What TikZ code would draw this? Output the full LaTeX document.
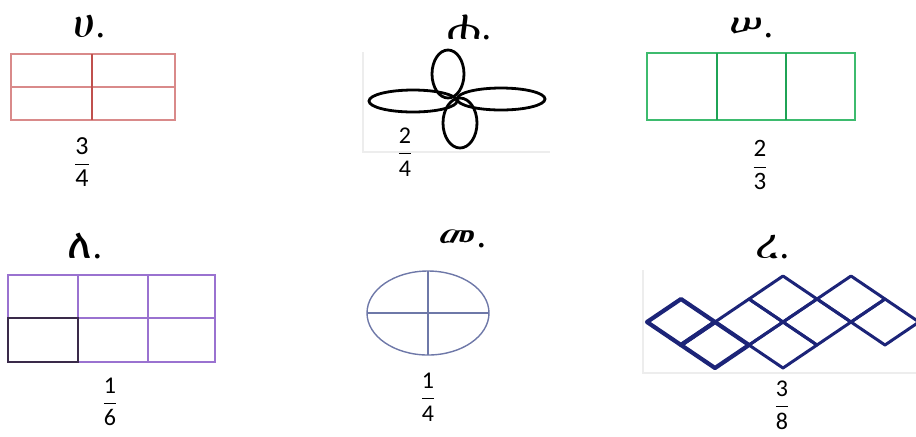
\documentclass[tikz,border=0pt]{standalone}
\usepackage{fontspec}
\setmainfont{Carlito}
\newfontfamily\ethfont{FreeSerif}
\usepackage{xcolor}
\usepackage{tikz}
\definecolor{RoseLine}{HTML}{D98A8A}
\definecolor{RoseDark}{HTML}{C0504D}
\definecolor{MintLine}{HTML}{3DBB6E}
\definecolor{MintDark}{HTML}{1FA355}
\definecolor{LilacLine}{HTML}{9A72D0}
\definecolor{LilacDark}{HTML}{3A2A4A}
\definecolor{SlateLine}{HTML}{6E78A8}
\definecolor{NavyLine}{HTML}{1C2478}
\definecolor{FaintGray}{HTML}{EDEDED}
\newcommand{\fracnum}[2]{$\displaystyle\frac{\textup{#1}}{\textup{#2}}$}

\begin{document}
\begin{tikzpicture}[x=0.5pt, y=-0.5pt,
            letter/.style={font=\ethfont\fontsize{21}{24}\selectfont, inner sep=0pt, anchor=base},
            fracnode/.style={font=\fontsize{#1}{#1}\selectfont, inner sep=0pt},
            lobe/.style={draw=black, line width=1.4pt},
            faint/.style={draw=FaintGray, line width=0.6pt},
            rhombcell/.style={draw=NavyLine, line width=1.5pt, line join=round}
        ]
            \useasboundingbox (0,0) rectangle (916,436);

            % top row
            \node[letter] at (90,37) (lblA) {ሀ.};
            \draw[RoseLine, line width=0.7pt] (11,54) rectangle (175,120);
            \draw[RoseLine, line width=0.7pt] (11,87) -- (175,87);
            \draw[RoseDark, line width=1.3pt] (92,54) -- (92,120);
            \node[fracnode=13] at (82,162) (fracA) {\fracnum{3}{4}};

            \node[letter] at (470,39) (lblB) {ሐ.};
            \draw[faint] (363,52) -- (363,152) -- (550,152);
            \draw[lobe] (413,101) ellipse [x radius=44, y radius=11];
            \draw[lobe] (501,99) ellipse [x radius=44, y radius=11];
            \draw[lobe] (448,74) ellipse [x radius=16, y radius=24];
            \draw[lobe] (460,123) ellipse [x radius=17, y radius=25];
            \node[fracnode=12] at (405,152) (fracB) {\fracnum{2}{4}};

            \node[letter] at (752,37) (lblC) {ሠ.};
            \draw[MintLine, line width=0.8pt] (647,53) rectangle (855,120);
            \draw[MintDark, line width=1.3pt] (717,53) -- (717,120) (786,53) -- (786,120);
            \node[fracnode=12.5] at (760,165) (fracC) {\fracnum{2}{3}};

            % bottom row
            \node[letter] at (85,258) (lblD) {ለ.};
            \draw[LilacLine, line width=0.8pt] (8,275) rectangle (215,362);
            \draw[LilacLine, line width=1.1pt] (8,318) -- (215,318);
            \draw[LilacLine, line width=1.1pt] (78,275) -- (78,362) (148,275) -- (148,362);
            \draw[LilacDark, line width=1.1pt] (8,318) rectangle (78,362);
            \node[fracnode=12] at (110,402) (fracD) {\fracnum{1}{6}};

            \node[letter] at (463,247) (lblE) {መ.};
            \draw[SlateLine, line width=0.7pt] (428,313) ellipse [x radius=61, y radius=42];
            \draw[SlateLine, line width=0.7pt] (367,313) -- (489,313) (428,271) -- (428,355);
            \node[fracnode=12] at (428,397) (fracE) {\fracnum{1}{4}};

            \node[letter] at (773,258) (lblF) {ረ.};
            \draw[faint] (643,270) -- (643,373) -- (916,373);
            \begin{scope}[shift={(647,322)}, x={(17pt,11.5pt)}, y={(17pt,-11.5pt)}]
                \foreach \i/\j in {1/1, 1/2, 2/1, 2/2, 3/2, 3/3}
                    \draw[rhombcell] (\i,\j) -- ++(1,0) -- ++(0,1) -- ++(-1,0) -- cycle;
                \foreach \i/\j in {0/0, 0/1}
                    \draw[rhombcell, line width=2.1pt] (\i,\j) -- ++(1,0) -- ++(0,1) -- ++(-1,0) -- cycle;
            \end{scope}
            \node[fracnode=12] at (782,405) (fracF) {\fracnum{3}{8}};

        \end{tikzpicture}
\end{document}
